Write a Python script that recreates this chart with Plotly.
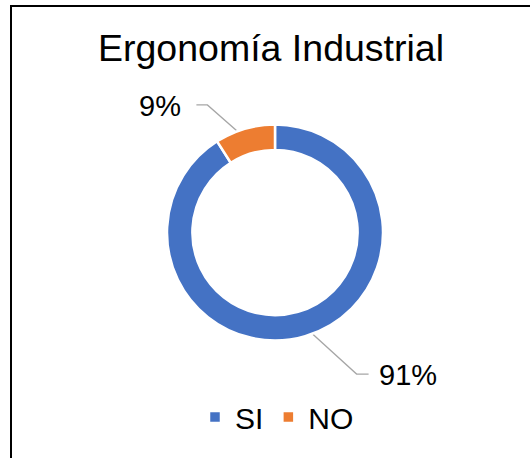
import math
import plotly.graph_objects as go

# ---- data ----
categories = ["SI", "NO"]
values = [91, 9]
label_texts = ["91%", "9%"]
title_text = "Ergonomía Industrial"
colors = ["#4472C4", "#ED7D31"]

# ---- layout constants (pixels) ----
W, H = 530, 458
CX, CY = 275.0, 232.5
R_OUT = 108.0
HOLE = 0.765
R_MID = R_OUT * (1 + HOLE) / 2
FONT = "Liberation Sans, Arial, sans-serif"

# elbow offsets for leader lines (style), per category
elbow = {"SI": (55, 50, 12), "NO": (-41, -36, -11)}

fig = go.Figure()
fig.add_trace(go.Pie(
    labels=categories, values=values, hole=HOLE, sort=False,
    direction="clockwise", rotation=0,
    marker=dict(colors=colors, line=dict(color="white", width=2.5)),
    textinfo="none", hoverinfo="label+percent",
    domain=dict(x=[(CX - R_OUT) / W, (CX + R_OUT) / W],
                y=[1 - (CY + R_OUT) / H, 1 - (CY - R_OUT) / H]),
    showlegend=True,
))

# chart frame (only left and top edges fall inside the picture)
fig.add_trace(go.Scatter(
    x=[11, 11, W + 5], y=[H + 5, 6, 6], mode="lines",
    line=dict(color="#000000", width=2),
    hoverinfo="skip", showlegend=False))

annotations = []
total = sum(values)
cum = 0.0
for cat, v, txt in zip(categories, values, label_texts):
    mid = (cum + v / 2) / total * 2 * math.pi
    cum += v
    sx = CX + R_MID * math.sin(mid)
    sy = CY - R_MID * math.cos(mid)
    dx, dy, hx = elbow[cat]
    ex, ey = sx + dx, sy + dy
    fx = ex + hx
    fig.add_trace(go.Scatter(
        x=[sx, ex, fx], y=[sy, ey, ey], mode="lines",
        line=dict(color="#A6A6A6", width=1.3),
        hoverinfo="skip", showlegend=False))
    right = hx > 0
    annotations.append(dict(
        x=fx + (8 if right else -13), y=ey + 1, xref="x", yref="y",
        text=txt, showarrow=False,
        xanchor="left" if right else "right", yanchor="middle",
        font=dict(family=FONT, size=29, color="#000000")))

annotations.append(dict(
    x=271, y=48, xref="x", yref="y", text=title_text, showarrow=False,
    xanchor="center", yanchor="middle",
    font=dict(family=FONT, size=37.5, color="#000000")))

fig.update_layout(
    width=W, height=H,
    margin=dict(l=0, r=0, t=0, b=0),
    paper_bgcolor="white", plot_bgcolor="rgba(0,0,0,0)",
    xaxis=dict(range=[0, W], visible=False, fixedrange=True,
               showgrid=False, zeroline=False, showline=False),
    yaxis=dict(range=[H, 0], visible=False, fixedrange=True,
               showgrid=False, zeroline=False, showline=False),
    annotations=annotations,
    showlegend=True,
    legend=dict(orientation="h", x=277 / W, xanchor="center",
                y=1 - 417 / H, yanchor="middle",
                font=dict(family=FONT, size=30, color="#000000"),
                itemwidth=30, bgcolor="rgba(0,0,0,0)"),
)

fig.write_html(
    "out.html", config={"displayModeBar": False, "responsive": False},
    post_script=("document.documentElement.style.margin='0';"
                 "document.body.style.margin='0';"
                 "document.body.style.padding='0';"
                 "document.body.style.overflow='hidden';"
                 "document.documentElement.style.overflow='hidden';"
                 "document.body.style.background='white';"))
